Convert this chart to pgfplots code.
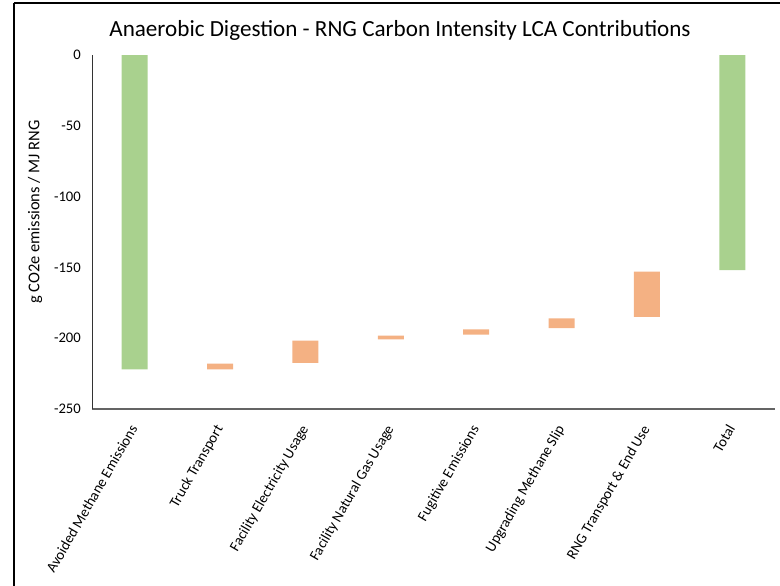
\documentclass[border=0pt]{standalone}
\usepackage{pgfplots}
\pgfplotsset{compat=1.18}
\usepackage{pgfplotstable}
\usepackage{fontspec}
\setmainfont{Carlito}
\definecolor{barGreen}{RGB}{169,209,142}
\definecolor{barOrange}{RGB}{244,177,131}
\definecolor{axGray}{RGB}{100,100,100}
\pgfplotstableread{
x base orange green
0 0 0 -222
1 -222 4 0
2 -217.5 15.8 0
3 -200.8 2.6 0
4 -197.5 3.8 0
5 -192.8 6.8 0
6 -185 32 0
7 0 0 -152
}\wfdata
\begin{document}
\begin{tikzpicture}
\useasboundingbox (-92bp,-177bp) rectangle (688bp,409bp);
\draw[black, line width=1.2bp] (-78bp,406bp) -- (688bp,406bp);
\draw[black, line width=1.2bp] (-78bp,406bp) -- (-78bp,-177bp);
\node[font=\fontsize{23.2}{26}\selectfont] at (308bp,379bp) {Anaerobic Digestion - RNG Carbon Intensity LCA Contributions};
\node[rotate=90, font=\fontsize{16.5}{18}\selectfont] at (-57bp,197bp) {g CO2e emissions / MJ RNG};
\begin{axis}[
  at={(0bp,0bp)}, anchor=south west,
  scale only axis, width=683bp, height=354bp,
  ybar stacked, stack negative=on previous, bar width=26bp,
  xmin=-0.5, xmax=7.5, ymin=-250, ymax=0,
  axis x line=bottom, axis y line=left,
  x axis line style={-, draw=axGray, line width=1.5bp},
  y axis line style={-, draw=black!80, line width=0.9bp},
  major tick length=0pt,
  xtick={0,...,7},
  xticklabels={Avoided Methane Emissions, Truck Transport, Facility Electricity Usage, Facility Natural Gas Usage, Fugitive Emissions, Upgrading Methane Slip, RNG Transport \& End Use, Total},
  xticklabel style={font=\fontsize{14.7}{16}\selectfont, yshift=-13bp, xshift=-6bp, rotate=60, anchor=north east, inner sep=1pt},
  ytick={-250,-200,-150,-100,-50,0},
  yticklabels={-250,-200,-150,-100,-50,0},
  yticklabel style={font=\fontsize{14.7}{16}\selectfont, inner sep=0pt, xshift=-11bp},
  clip=false,
]
\addplot[draw=none, fill=none] table[x=x, y=base]{\wfdata};
\addplot[draw=none, fill=barOrange] table[x=x, y=orange]{\wfdata};
\addplot[draw=none, fill=barGreen] table[x=x, y=green]{\wfdata};
\end{axis}
\end{tikzpicture}
\end{document}
